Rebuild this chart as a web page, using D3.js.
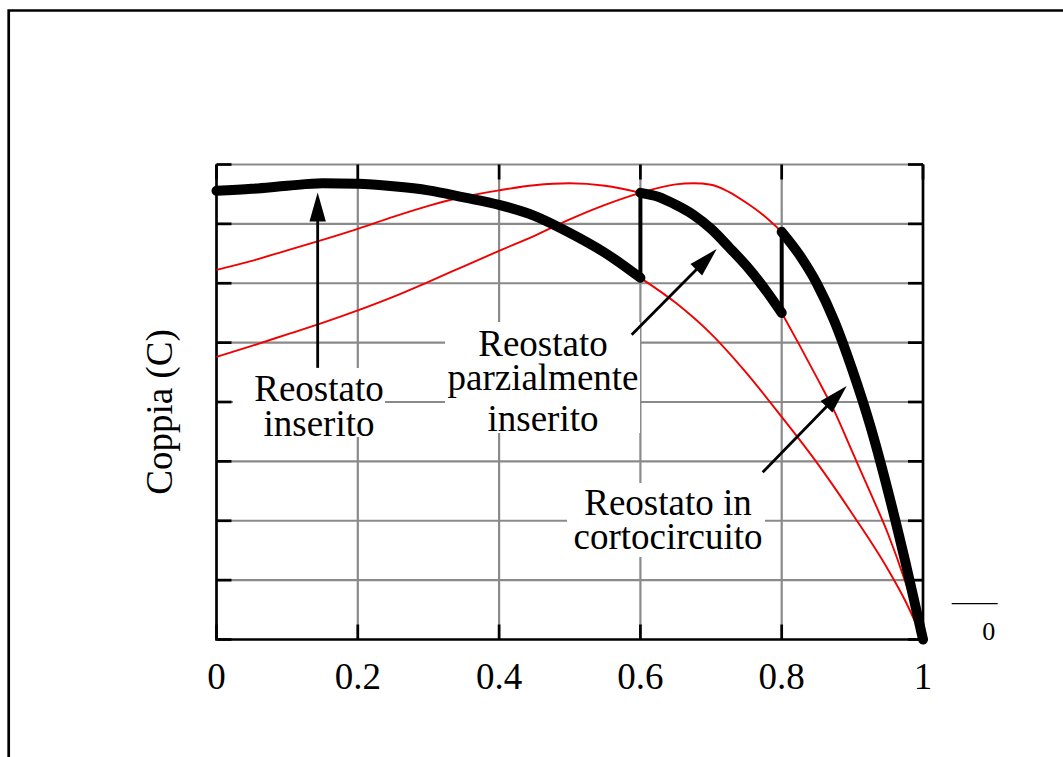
<!DOCTYPE html>
<html><head><meta charset="utf-8">
<script src="https://cdn.jsdelivr.net/npm/d3@7"></script>
<style>
html,body{margin:0;padding:0;background:#fff;}
svg{display:block;}
text{font-family:"Liberation Serif","Times New Roman",serif;fill:#000;}
</style>
</head><body>
<svg id="chart" width="1063" height="757"></svg>
<script>
// ---- data (speed ratio vs torque, torque in grid units) ----
const xTickLabels = ["0", "0.2", "0.4", "0.6", "0.8", "1"];
const xTickValues = [0, 0.2, 0.4, 0.6, 0.8, 1];
const yGridValues = [0, 1, 2, 3, 4, 5, 6, 7, 8];

// Reostato inserito (high rotor resistance)
const highX = [0,0.05,0.1,0.15,0.2,0.25,0.3,0.35,0.4,0.45,0.5,0.55,0.6,0.65,0.7,0.75,0.8,0.85,0.9,0.95,0.975,1];
const highY = [7.557,7.591,7.641,7.683,7.675,7.633,7.565,7.447,7.321,7.136,6.849,6.512,6.091,5.670,5.147,4.490,3.749,2.974,2.115,1.188,0.649,0];

// Reostato parzialmente inserito
const midX = [0,0.05,0.1,0.15,0.2,0.25,0.3,0.35,0.4,0.45,0.5,0.55,0.6,0.625,0.65,0.675,0.7,0.725,0.75,0.775,0.8,0.825,0.85,0.875,0.9,0.925,0.95,0.975,1];
const midY = [6.226,6.377,6.554,6.731,6.917,7.119,7.304,7.456,7.565,7.650,7.683,7.641,7.523,7.456,7.321,7.152,6.917,6.613,6.293,5.922,5.501,4.962,4.406,3.833,3.159,2.485,1.794,0.969,0];

// Reostato in cortocircuito
const lowX = [0,0.05,0.1,0.15,0.2,0.25,0.3,0.35,0.4,0.45,0.5,0.55,0.6,0.65,0.675,0.7,0.725,0.75,0.775,0.8,0.825,0.85,0.875,0.9,0.925,0.95,0.975,1];
const lowY = [4.760,4.945,5.139,5.333,5.543,5.771,6.024,6.285,6.546,6.799,7.077,7.321,7.523,7.666,7.683,7.658,7.540,7.355,7.136,6.866,6.479,5.990,5.350,4.541,3.614,2.519,1.306,0];

// speeds where rheostat steps are switched
const switchSpeeds = [0.6, 0.8];

const labelInserito = ["Reostato", "inserito"];
const labelParziale = ["Reostato", "parzialmente", "inserito"];
const labelCorto = ["Reostato in", "cortocircuito"];
const yTitle = "Coppia (C)";

// ---- layout ----
const svg = d3.select("#chart");
const x = d3.scaleLinear().domain([0, 1]).range([216.5, 923]);
const y = d3.scaleLinear().domain([0, 8]).range([639.5, 164.5]);
const FS = 37;

const zip = (xs, ys) => xs.map((v, i) => ({x: v, y: ys[i]}));
const high = zip(highX, highY), mid = zip(midX, midY), low = zip(lowX, lowY);
const seg = (d, a, b) => d.filter(p => p.x >= a - 1e-9 && p.x <= b + 1e-9);
const line = d3.line().x(d => x(d.x)).y(d => y(d.y)).curve(d3.curveMonotoneX);

// outer frame
svg.append("path").attr("d", "M8.7,760V10.5H1066").attr("fill", "none")
  .attr("stroke", "#000").attr("stroke-width", 2.7);

// grid
const g = svg.append("g");
g.selectAll(".vg").data(xTickValues.slice(1, -1)).join("line")
  .attr("x1", d => x(d)).attr("x2", d => x(d)).attr("y1", y(0)).attr("y2", y(8))
  .attr("stroke", "#8a8a8a").attr("stroke-width", 2.2);
g.selectAll(".hg").data(yGridValues.slice(1)).join("line")
  .attr("x1", x(0)).attr("x2", x(1)).attr("y1", d => y(d)).attr("y2", d => y(d))
  .attr("stroke", "#8a8a8a").attr("stroke-width", 2.2);

// white label backgrounds (mask grid)
const boxes = [
  [233, 368, 385, 437],
  [445, 322, 640, 433],
  [567, 483, 765, 557]
];
svg.selectAll(".bx").data(boxes).join("rect")
  .attr("x", d => d[0]).attr("y", d => d[1]).attr("width", d => d[2]-d[0]).attr("height", d => d[3]-d[1])
  .attr("fill", "#fff");

// axes (left, bottom, right black; top is grid)
const ax = svg.append("g").attr("stroke", "#000").attr("stroke-width", 2.7).attr("fill", "none");
ax.append("path").attr("d", `M${x(0)},${y(8)}V${y(0)}H${x(1)}V${y(8)}`).attr("stroke-linejoin", "miter");
const TL = 15;
yGridValues.forEach(v => {
  ax.append("line").attr("x1", x(0)).attr("x2", x(0) + TL).attr("y1", y(v)).attr("y2", y(v));
  ax.append("line").attr("x1", x(1)).attr("x2", x(1) - TL).attr("y1", y(v)).attr("y2", y(v));
});
xTickValues.forEach(v => {
  ax.append("line").attr("x1", x(v)).attr("x2", x(v)).attr("y1", y(0)).attr("y2", y(0) - TL);
  ax.append("line").attr("x1", x(v)).attr("x2", x(v)).attr("y1", y(8)).attr("y2", y(8) + TL);
});

// x tick labels
svg.selectAll(".xl").data(xTickValues).join("text")
  .attr("x", d => x(d)).attr("y", 689).attr("text-anchor", "middle")
  .attr("font-size", FS).text((d, i) => xTickLabels[i]);

// y title
svg.append("text").attr("transform", "translate(172,412) rotate(-90)")
  .attr("text-anchor", "middle").attr("font-size", FS).text(yTitle);

// right-side fraction remnant
svg.append("line").attr("x1", 951.7).attr("x2", 997.7).attr("y1", 603.7).attr("y2", 603.7)
  .attr("stroke", "#000").attr("stroke-width", 1.3);
svg.append("text").attr("x", 988.7).attr("y", 640).attr("text-anchor", "middle")
  .attr("font-size", 26).text("0");

// red curves (portions not in use)
const red = svg.append("g").attr("fill", "none").attr("stroke", "#f00000").attr("stroke-width", 1.9);
red.append("path").attr("d", line(seg(high, switchSpeeds[0], 1)));
red.append("path").attr("d", line(seg(mid, 0, switchSpeeds[0])));
red.append("path").attr("d", line(seg(mid, switchSpeeds[1], 1)));
red.append("path").attr("d", line(seg(low, 0, switchSpeeds[1])));

// black starting characteristic
const blk = svg.append("g").attr("fill", "none").attr("stroke", "#000")
  .attr("stroke-linecap", "round").attr("stroke-linejoin", "round");
blk.append("path").attr("d", line(seg(high, 0, switchSpeeds[0]))).attr("stroke-width", 10);
blk.append("path").attr("d", line(seg(mid, switchSpeeds[0], switchSpeeds[1]))).attr("stroke-width", 10);
blk.append("path").attr("d", line(seg(low, switchSpeeds[1], 1))).attr("stroke-width", 10);
const at = (d, s) => d.find(p => Math.abs(p.x - s) < 1e-9).y;
blk.append("line").attr("x1", x(0.6)).attr("x2", x(0.6)).attr("y1", y(at(high, 0.6))).attr("y2", y(at(mid, 0.6))).attr("stroke-width", 4).attr("stroke-linecap", "butt");
blk.append("line").attr("x1", x(0.8)).attr("x2", x(0.8)).attr("y1", y(at(mid, 0.8))).attr("y2", y(at(low, 0.8))).attr("stroke-width", 4).attr("stroke-linecap", "butt");

// arrows (tail -> tip, data coords)
const arrows = [
  [0.1432, 4.575, 0.1432, 7.528],
  [0.5877, 5.131, 0.708, 6.575],
  [0.7731, 2.817, 0.892, 4.271]
];
arrows.forEach(a => {
  const x1 = x(a[0]), y1 = y(a[1]), x2 = x(a[2]), y2 = y(a[3]);
  const dx = x2 - x1, dy = y2 - y1, L = Math.hypot(dx, dy);
  const ux = dx / L, uy = dy / L, HL = 29, HW = 8.2;
  const bx = x2 - ux * HL, by = y2 - uy * HL;
  svg.append("line").attr("x1", x1).attr("y1", y1).attr("x2", bx + ux * 2).attr("y2", by + uy * 2)
    .attr("stroke", "#000").attr("stroke-width", 2.8);
  svg.append("polygon").attr("points",
    `${x2},${y2} ${bx - uy * HW},${by + ux * HW} ${bx + uy * HW},${by - ux * HW}`).attr("fill", "#000");
});

// labels (one text element per label, lines as tspans)
function label(lines, cx, baselines) {
  const t = svg.append("text").attr("x", cx).attr("y", baselines[0])
    .attr("text-anchor", "middle").attr("font-size", FS);
  lines.forEach((s, i) => t.append("tspan").attr("x", cx)
    .attr("dy", i === 0 ? 0 : baselines[i] - baselines[i - 1]).text(s));
}
label(labelInserito, 319, [401, 436]);
label(labelParziale, 543, [356, 390, 431]);
label(labelCorto, 668, [515, 549]);
</script>
</body></html>
